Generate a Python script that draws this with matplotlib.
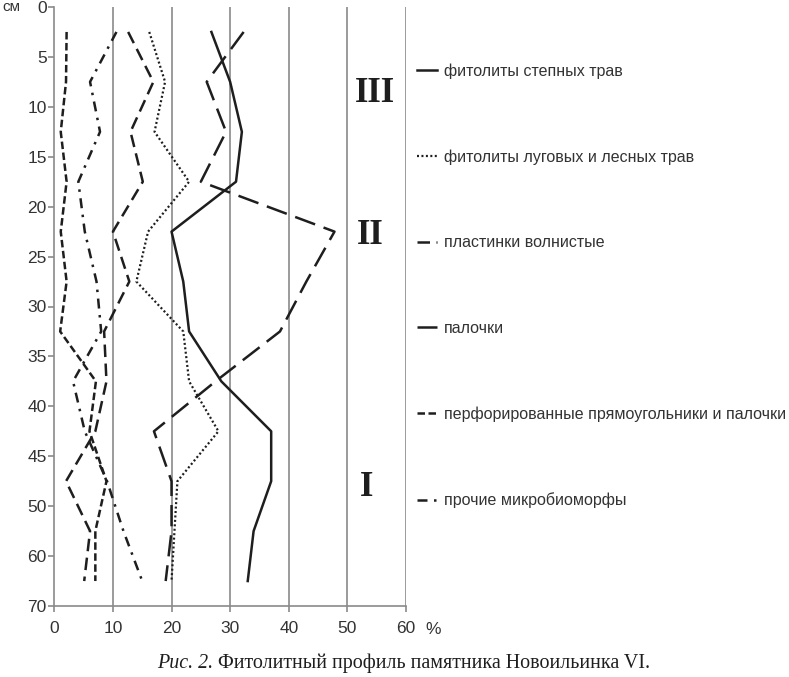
import numpy as np
import matplotlib
matplotlib.use("Agg")
from matplotlib import pyplot as plt

my_dpi = 100
W, H = 789, 677

# depth of sample midpoints, cm (0-50 by 5 cm, then 50-60 and 60-70)
depth = [2.5, 7.5, 12.5, 17.5, 22.5, 27.5, 32.5, 37.5, 42.5, 47.5, 55, 65]

# percentages read from the profile
stepnye = [26.8, 30, 32, 31, 20, 22, 23, 28.5, 37, 37, 34, 33]
lugovye = [16.2, 18.9, 17.1, 23, 16, 14, 22, 23, 28, 21, 20.5, 20]
plastinki = [12.6, 16.9, 13, 15.1, 10, 12.8, 8.5, 8.9, 7, 2, 6.1, 5.1]
palochki = [32.3, 26, 29.3, 25, 47.8, 43, 38.5, 27.5, 17, 20, 20, 19]
perfor = [2.1, 2, 1.1, 2.1, 1.1, 2.1, 1, 7.1, 6, 8.9, 7, 7]
prochie = [10.6, 6.1, 7.8, 4.1, 5.2, 7.2, 8, 3.2, 5.2, 9, 11.8, 15]

labels = ["фитолиты степных трав",
          "фитолиты луговых и лесных трав",
          "пластинки волнистые",
          "палочки",
          "перфорированные прямоугольники и палочки",
          "прочие микробиоморфы"]

y_ticks = [0, 5, 10, 15, 20, 25, 30, 35, 40, 45, 50, 60, 70]
x_ticks = [0, 10, 20, 30, 40, 50, 60]


def fwd(d):
    d = np.asarray(d, dtype=float)
    return np.where(d <= 50, d, 50 + (d - 50) / 2.0)


def inv(t):
    t = np.asarray(t, dtype=float)
    return np.where(t <= 50, t, 50 + (t - 50) * 2.0)


plt.rcParams['font.family'] = ['Liberation Sans', 'DejaVu Sans']

fig = plt.figure(figsize=(W / my_dpi, H / my_dpi), dpi=my_dpi, facecolor='w')
ax = fig.add_axes([54.3 / W, 1 - 606 / H, (406 - 54.3) / W, (606 - 7) / H])

ink = '#1e1e1e'
series = [
    (stepnye, dict(linestyle='-', linewidth=1.8)),
    (lugovye, dict(linestyle=(0, (0.9, 1.1)), linewidth=1.6)),
    (plastinki, dict(linestyle=(0, (5, 2.6)), linewidth=1.8)),
    (palochki, dict(linestyle=(0, (8.5, 3.6)), linewidth=1.8)),
    (perfor, dict(linestyle=(0, (3, 1.4)), linewidth=1.8)),
    (prochie, dict(linestyle=(0, (4, 2.6, 1, 2.6)), linewidth=1.8)),
]
handles = []
for (vals, style), lab in zip(series, labels):
    h, = ax.plot(vals, depth, color=ink, label=lab, **style)
    handles.append(h)

ax.set_yscale('function', functions=(fwd, inv))
ax.set_ylim(70, 0)
ax.set_xlim(0, 60)
ax.set_yticks(y_ticks)
ax.set_yticklabels([str(t) for t in y_ticks])
ax.set_xticks(x_ticks)
ax.minorticks_off()

for x in x_ticks[1:]:
    ax.axvline(x, color='#8a8a8a', linewidth=1.2, zorder=0)

for s in ['top', 'right']:
    ax.spines[s].set_visible(False)
for s in ['left', 'bottom']:
    ax.spines[s].set_color('#8a8a8a')
    ax.spines[s].set_linewidth(1.2)
ax.tick_params(axis='both', colors='#8a8a8a', labelcolor='#333333',
               labelsize=12.5, length=4, width=1.2, direction='out')
ax.tick_params(axis='y', pad=1.5)
ax.tick_params(axis='x', pad=7)

fig.text(2 / W, 1 - 7 / H, "см", fontsize=11, color='#333333', va='center')
fig.text(425 / W, 1 - 630 / H, "%", fontsize=12.5, color='#333333', va='center')

# soil horizons
roman = dict(family='Liberation Serif', fontweight='bold', fontsize=25, color=ink,
             ha='center', va='center')
fig.text(375 / W, 1 - 93 / H, "III", **roman)
fig.text(370 / W, 1 - 236 / H, "II", **roman)
fig.text(367 / W, 1 - 488 / H, "I", **roman)

fig.legend(handles=handles, labels=labels, loc='upper left',
           bbox_to_anchor=(406 / W, 1 - 52 / H), frameon=False,
           fontsize=11.5, handlelength=1.25, handletextpad=0.4,
           labelspacing=4.42, labelcolor='#333333', borderaxespad=0.3)

# caption
fig.text(213 / W, 1 - 663 / H, "Рис. 2.", family='Liberation Serif',
         style='italic', fontsize=14.4, ha='right', va='center', color=ink)
fig.text(218 / W, 1 - 663 / H, "Фитолитный профиль памятника Новоильинка VI.",
         family='Liberation Serif', fontsize=14.4, ha='left', va='center', color=ink)

plt.savefig("out.png", dpi=my_dpi)
